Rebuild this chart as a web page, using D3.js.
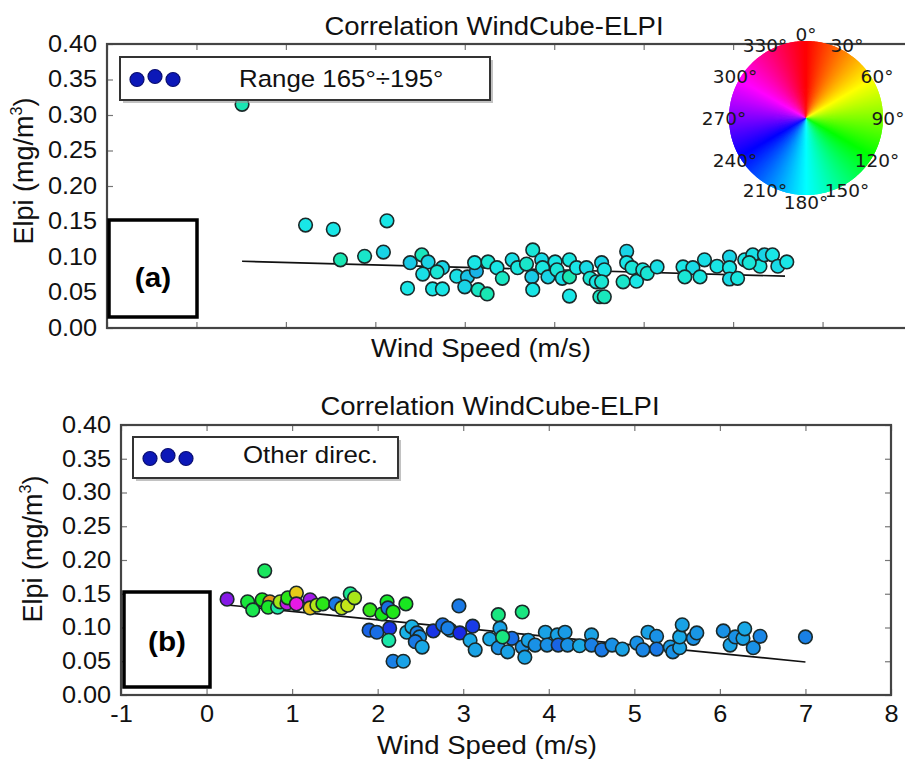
<!DOCTYPE html>
<html lang="en">
<head>
<meta charset="UTF-8">
<title>Correlation WindCube-ELPI</title>
<script src="https://d3js.org/d3.v7.min.js"></script>
<style>
  body { margin: 0; background: #fff; }
  svg { display: block; font-family: "Liberation Sans", Arial, sans-serif; }
  .tick line { stroke: #777; stroke-width: 1.2; }
  .tick text { font-size: 23px; fill: #111; }
</style>
</head>
<body>
<svg id="chart" width="905" height="760"></svg>
<script>
// panel (a): range 165°-195°
const windA = [0.51,1.22,1.53,1.61,1.88,2.09,2.13,2.39,2.52,2.59,2.53,2.36,2.64,2.75,2.75,2.69,2.91,3.03,3.00,3.13,
               3.15,3.25,3.11,3.26,3.36,3.42,3.53,3.59,3.69,3.76,3.75,3.76,3.86,3.87,3.93,4.01,4.03,4.09,4.17,4.17,
               4.17,4.25,4.36,4.40,4.47,4.51,4.53,4.56,4.53,4.56,4.81,4.81,4.87,4.77,4.92,4.99,5.04,5.15,5.44,5.55,
               5.46,5.63,5.68,5.82,5.96,5.96,5.96,6.05,6.13,6.22,6.30,6.35,6.44,6.50,6.60,6.18];
const elpiA = [.315,.145,.139,.096,.101,.107,.151,.092,.103,.093,.076,.056,.055,.055,.085,.079,.073,.072,.058,.080,
               .054,.048,.092,.093,.085,.070,.096,.085,.090,.110,.072,.054,.096,.085,.072,.093,.082,.070,.096,.072,
               .045,.085,.085,.070,.065,.044,.092,.082,.065,.044,.108,.092,.085,.065,.066,.082,.077,.086,.086,.085,
               .072,.072,.096,.087,.100,.085,.069,.070,.096,.103,.087,.103,.103,.087,.093,.092];
const dirA  = [165,180,180,165,172,185,180,188,168,185,182,180,180,180,185,175,182,190,185,195,
               170,165,180,175,180,170,182,178,172,176,188,180,183,178,185,180,176,182,178,165,
               180,180,183,175,180,170,185,180,175,168,185,180,176,172,180,178,175,182,180,183,
               175,178,182,180,185,180,183,178,180,182,178,185,180,183,180,176];
const fitAx = [0.51, 6.58];
const fitAy = [0.094, 0.073];

// panel (b): other directions
const windB = [0.24,0.48,0.54,0.65,0.68,0.74,0.72,0.83,0.86,0.94,0.95,1.05,1.05,1.21,1.21,1.29,1.36,1.51,1.58,1.65,
               1.68,1.73,1.91,2.05,2.11,2.12,2.18,2.33,1.90,1.99,2.14,2.13,2.18,2.30,2.34,2.40,2.46,2.49,2.44,2.52,
               2.65,2.76,2.85,2.95,3.41,3.69,2.82,2.96,3.11,3.08,3.14,3.31,3.41,3.43,3.52,3.57,3.46,3.69,3.76,3.84,
               3.72,3.96,3.98,4.10,4.11,4.19,4.22,4.36,4.50,4.50,4.62,4.74,4.86,5.03,5.16,5.26,5.10,5.26,5.42,5.45,
               5.53,5.53,5.56,5.69,5.73,6.04,6.12,6.18,6.27,6.29,6.39,6.47,7.00];
const elpiB = [.142,.138,.126,.141,.184,.138,.130,.130,.138,.136,.144,.151,.135,.141,.129,.133,.135,.135,.129,.133,
               .150,.144,.126,.120,.138,.129,.123,.135,.096,.093,.099,.081,.050,.050,.093,.101,.092,.086,.079,.071,
               .095,.104,.096,.132,.119,.123,.099,.092,.102,.081,.067,.083,.070,.099,.064,.084,.086,.071,.081,.074,
               .056,.093,.074,.089,.074,.093,.074,.073,.089,.074,.067,.074,.068,.077,.093,.087,.067,.068,.071,.064,
               .070,.086,.104,.084,.092,.095,.074,.086,.084,.098,.070,.087,.086];
const dirB  = [272,130,135,120,140,35,125,160,80,290,115,52,300,280,50,75,115,212,72,70,
               155,78,112,120,125,215,118,122,218,215,232,162,210,200,195,195,210,205,212,198,
               232,215,200,212,150,150,210,235,230,198,200,198,205,200,200,215,150,205,200,205,
               200,200,205,200,218,202,205,198,200,210,212,205,200,205,200,205,208,212,202,205,
               200,198,200,205,203,205,200,205,200,198,205,208,210];
const fitBx = [0.27, 7.00];
const fitBy = [0.133, 0.049];

const xTicks = [-1, 0, 1, 2, 3, 4, 5, 6, 7, 8];
const yTicks = [0, 0.05, 0.10, 0.15, 0.20, 0.25, 0.30, 0.35, 0.40];
const wheelLabels = [0, 30, 60, 90, 120, 150, 180, 210, 240, 270, 300, 330];

const svg = d3.select("#chart");
svg.append("rect").attr("width", 905).attr("height", 760).attr("fill", "#fff");

const SX = 1.1; // the source figure is slightly stretched horizontally

function stext(parent, str, x, y, size, anchor, weight) {
  return parent.append("text")
    .attr("transform", `translate(${x},${y}) scale(${SX},1)`)
    .attr("text-anchor", anchor || "middle")
    .attr("font-size", size)
    .attr("font-weight", weight || "normal")
    .attr("fill", "#111")
    .text(str);
}

function panel(o) {
  const x = d3.scaleLinear().domain([-1, 8]).range([o.left, o.right]);
  const y = d3.scaleLinear().domain([0, 0.4]).range([o.bottom, o.top]);
  const g = svg.append("g");
  const noDomain = s => s.select(".domain").remove();

  const bx = g.append("g").attr("transform", `translate(0,${o.bottom})`)
    .call(d3.axisBottom(x).tickValues(xTicks).tickSize(-6)
      .tickFormat(o.xLabels ? (d => String(d)) : ""))
    .call(noDomain);
  bx.selectAll("text").attr("y", 27).attr("dy", 0).attr("transform", `scale(${SX},1)`);

  g.append("g").attr("transform", `translate(0,${o.top})`)
    .call(d3.axisTop(x).tickValues(xTicks).tickSize(-6).tickFormat("")).call(noDomain);

  const ly = g.append("g").attr("transform", `translate(${o.left},0)`)
    .call(d3.axisLeft(y).tickValues(yTicks).tickSize(-6).tickFormat(d3.format(".2f")))
    .call(noDomain);
  ly.selectAll("text").attr("x", -9).attr("transform", `scale(${SX},1)`);

  g.append("g").attr("transform", `translate(${o.right},0)`)
    .call(d3.axisRight(y).tickValues(yTicks).tickSize(-6).tickFormat("")).call(noDomain);

  // regression line under the points
  const line = d3.line().x(d => x(d[0])).y(d => y(d[1]));
  g.append("path").datum(d3.zip(o.fitX, o.fitY)).attr("d", line)
    .attr("fill", "none").attr("stroke", "#111").attr("stroke-width", 1.6);

  g.append("g").selectAll("circle")
    .data(d3.zip(o.wind, o.elpi, o.dir))
    .join("circle")
    .attr("cx", d => x(d[0]))
    .attr("cy", d => y(d[1]))
    .attr("r", 6.8)
    .attr("fill", d => d3.hsl(d[2], 0.8, 0.5))
    .attr("stroke", "#1b2a2a")
    .attr("stroke-width", 1.6);

  g.append("rect")
    .attr("x", o.left).attr("y", o.top)
    .attr("width", o.right - o.left).attr("height", o.bottom - o.top)
    .attr("fill", "none").attr("stroke", "#444").attr("stroke-width", 2.2);

  // titles
  stext(g, "Correlation WindCube-ELPI", o.titleX, o.titleY, 25);
  stext(g, "Wind Speed (m/s)", o.xlabX, o.xlabY, 25);
  const yl = g.append("text")
    .attr("transform", `translate(${o.ylabX},${o.ylabY}) rotate(-90)`)
    .attr("text-anchor", "middle").attr("font-size", 27).attr("fill", "#111");
  yl.append("tspan").text("Elpi (mg/m");
  yl.append("tspan").attr("font-size", 16).attr("dy", -11).text("3");
  yl.append("tspan").attr("dy", 11).text(")");

  // legend
  const L = o.legend;
  g.append("rect").attr("x", L.x + 3).attr("y", L.y + 3).attr("width", L.w).attr("height", L.h)
    .attr("fill", "#999").attr("opacity", 0.6);
  g.append("rect").attr("x", L.x).attr("y", L.y).attr("width", L.w).attr("height", L.h)
    .attr("fill", "#fff").attr("stroke", "#333").attr("stroke-width", 2);
  [[17, 0], [35, -3], [53, 0]].forEach(p => {
    g.append("circle").attr("cx", L.x + p[0]).attr("cy", L.y + L.h / 2 + 1 + p[1]).attr("r", 7)
      .attr("fill", "#0c18b8").attr("stroke", "#0a0e70").attr("stroke-width", 1.2);
  });
  stext(g, L.text, L.tx, L.ty, 23.5, "start");

  // panel tag box
  const T = o.tag;
  g.append("rect").attr("x", T.x).attr("y", T.y).attr("width", T.w).attr("height", T.h)
    .attr("fill", "#fff").attr("stroke", "#000").attr("stroke-width", 3.5);
  stext(g, T.text, T.x + T.w / 2, T.ty, 27, "middle", "bold").attr("fill", "#000");
  return g;
}

panel({
  left: 107, right: 912, top: 44, bottom: 328, xLabels: false,
  wind: windA, elpi: elpiA, dir: dirA, fitX: fitAx, fitY: fitAy,
  titleX: 494, titleY: 35, xlabX: 481, xlabY: 357, ylabX: 33, ylabY: 171,
  legend: { x: 120, y: 57, w: 370, h: 43, text: "Range 165°÷195°", tx: 239, ty: 87 },
  tag: { x: 109, y: 220, w: 88, h: 97, text: "(a)", ty: 287 }
});

panel({
  left: 121, right: 891, top: 425, bottom: 695, xLabels: true,
  wind: windB, elpi: elpiB, dir: dirB, fitX: fitBx, fitY: fitBy,
  titleX: 490, titleY: 415, xlabX: 487, xlabY: 754, ylabX: 42, ylabY: 549,
  legend: { x: 133, y: 437, w: 265, h: 41, text: "Other direc.", tx: 243, ty: 463 },
  tag: { x: 124, y: 592, w: 86, h: 95, text: "(b)", ty: 651 }
});

// colour wheel for direction
const wc = { x: 806, y: 118, r: 77 };
const wheel = svg.append("g").attr("transform", `translate(${wc.x},${wc.y})`);
const arc = d3.arc().innerRadius(0).outerRadius(wc.r);
wheel.selectAll("path")
  .data(d3.range(0, 360))
  .join("path")
  .attr("d", a => arc({ startAngle: (a - 0.7) * Math.PI / 180, endAngle: (a + 1.7) * Math.PI / 180 }))
  .attr("fill", a => d3.hsl(a, 1, 0.5));
wheel.selectAll("text")
  .data(wheelLabels)
  .join("text")
  .attr("x", a => 82 * Math.sin(a * Math.PI / 180))
  .attr("y", a => -84 * Math.cos(a * Math.PI / 180))
  .attr("dy", "0.36em")
  .attr("text-anchor", "middle")
  .attr("font-family", "DejaVu Sans, sans-serif")
  .attr("font-size", 18.5)
  .attr("fill", "#1a1a1a")
  .text(a => a + "°");
</script>
</body>
</html>
